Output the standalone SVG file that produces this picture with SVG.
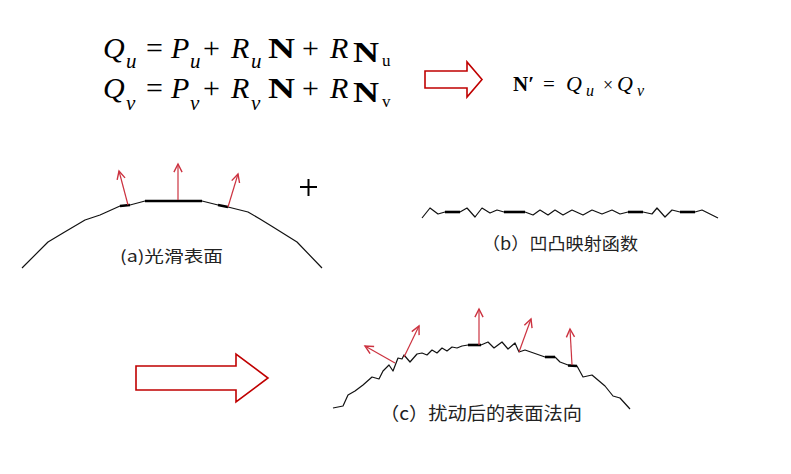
<svg xmlns="http://www.w3.org/2000/svg" width="791" height="474" viewBox="0 0 791 474">
<defs>
<marker id="ah" markerUnits="userSpaceOnUse" markerWidth="14" markerHeight="14" refX="0" refY="0" viewBox="-8 -6 10 12" orient="auto">
<path d="M-7,-3.5 L0,0 L-7,3.5" fill="none" stroke="#cc3340" stroke-width="1.2"/>
</marker>
</defs>
<style>
.m{font-family:"Liberation Serif","Times New Roman",serif;fill:#000}
.i{font-style:italic}
.b{font-weight:bold}
.s{fill:none;stroke:#111;stroke-width:1.2;stroke-linejoin:round}
.t{fill:none;stroke:#000;stroke-width:2.6}
.n{stroke:#cc3340;stroke-width:1.2;fill:none;marker-end:url(#ah)}
.blk{fill:#fff;stroke:#c00000;stroke-width:1.6;stroke-linejoin:miter}
.lab{font-family:"Noto Sans CJK SC","Noto Sans",sans-serif;fill:#222}
</style>
<rect width="791" height="474" fill="#fff"/>

<g id="formula-u">
<text class="m i" x="103" y="58" font-size="30">Q</text>
<text class="m i" x="126" y="68" font-size="21">u</text>
<text class="m" x="146" y="58" font-size="30">=</text>
<text class="m i" x="171" y="58" font-size="30">P</text>
<text class="m i" x="190" y="68" font-size="21">u</text>
<text class="m" x="203" y="58" font-size="30">+</text>
<text class="m i" x="231" y="58" font-size="30">R</text>
<text class="m i" x="251" y="68" font-size="21">u</text>
<text class="m b" x="268" y="58" font-size="30" textLength="27" lengthAdjust="spacingAndGlyphs">N</text>
<text class="m" x="302" y="58" font-size="30">+</text>
<text class="m i" x="330" y="58" font-size="30">R</text>
<text class="m b" x="353" y="62" font-size="30" textLength="26" lengthAdjust="spacingAndGlyphs">N</text>
<text class="m" x="382" y="66" font-size="17">u</text>
</g>

<g id="formula-v">
<text class="m i" x="103" y="98" font-size="30">Q</text>
<text class="m i" x="126" y="110" font-size="21">v</text>
<text class="m" x="146" y="98" font-size="30">=</text>
<text class="m i" x="171" y="98" font-size="30">P</text>
<text class="m i" x="190" y="110" font-size="21">v</text>
<text class="m" x="203" y="98" font-size="30">+</text>
<text class="m i" x="231" y="98" font-size="30">R</text>
<text class="m i" x="251" y="110" font-size="21">v</text>
<text class="m b" x="268" y="98" font-size="30" textLength="27" lengthAdjust="spacingAndGlyphs">N</text>
<text class="m" x="302" y="98" font-size="30">+</text>
<text class="m i" x="330" y="98" font-size="30">R</text>
<text class="m b" x="353" y="102" font-size="30" textLength="26" lengthAdjust="spacingAndGlyphs">N</text>
<text class="m" x="382" y="107" font-size="17">v</text>
</g>

<g id="formula-n">
<text class="m b" x="513" y="91" font-size="21">N′</text>
<text class="m" x="543" y="91" font-size="21">=</text>
<text class="m i" x="566" y="91" font-size="22">Q</text>
<text class="m i" x="586" y="96" font-size="16">u</text>
<text class="m" x="603" y="91" font-size="18">×</text>
<text class="m i" x="617" y="91" font-size="22">Q</text>
<text class="m i" x="637" y="96" font-size="16">v</text>
</g>

<g id="connectors">
<polygon class="blk" points="425,71 467,71 467,62 482,79.5 467,97 467,88 425,88"/>
<polygon class="blk" points="136,366 236,366 236,354 268,378 236,402 236,390 136,390"/>
</g>

<g id="surface-a">
<polyline class="s" points="22,268 48,242 63,233 85,220 100,215 120,206 130,205 145,201 202,201 218,205 228,207 248,212 260,219 273,227 297,242 322,268"/>
<line class="t" x1="120" y1="206" x2="130" y2="205"/>
<line class="t" x1="145" y1="201" x2="202" y2="201"/>
<line class="t" x1="218" y1="205" x2="228" y2="207"/>
<line class="n" x1="128" y1="205" x2="119" y2="171"/>
<line class="n" x1="178" y1="200" x2="178" y2="164"/>
<line class="n" x1="228" y1="207" x2="238" y2="174"/>
<text class="lab" x="120" y="262" font-size="16" textLength="103" lengthAdjust="spacingAndGlyphs">(a)光滑表面</text>
</g>

<g id="plus">
<line x1="300" y1="187" x2="317" y2="187" stroke="#000" stroke-width="2"/>
<line x1="308.5" y1="179" x2="308.5" y2="196" stroke="#000" stroke-width="2"/>
</g>

<g id="surface-b">
<polyline class="s" points="422,218 430,208 438,214 445,212 460,212 467,208 475,217 482,208 490,213 497,210 504,212 525,212 533,215 540,210 548,215 555,210 563,215 572,210 583,215 592,210 602,214 612,210 620,214 628,212 643,212 652,214 657,208 665,217 672,210 680,212 695,212 702,210 718,218"/>
<line class="t" x1="445" y1="212" x2="460" y2="212"/>
<line class="t" x1="504" y1="212" x2="525" y2="212"/>
<line class="t" x1="628" y1="212" x2="643" y2="212"/>
<line class="t" x1="680" y1="212" x2="695" y2="212"/>
<text class="lab" x="482" y="250" font-size="17" textLength="156" lengthAdjust="spacingAndGlyphs">（b）凹凸映射函数</text>
</g>

<g id="surface-c">
<polyline class="s" points="333,408 343,406 348,395 355,391 363,385 372,377 379,379 383,371 389,365 393,371 398,358 402,359 404,355 410,362 417,354 422,353 427,355 432,350 437,353 442,348 447,351 452,347 457,348 462,346 468,345 481,345 488,342 494,348 502,342 508,349 515,343 519,352 525,350 545,357 555,357 560,362 568,365 577,366 583,377 592,375 605,386 613,396 620,398 630,409"/>
<line class="t" x1="468" y1="345" x2="481" y2="345"/>
<line class="t" x1="545" y1="357" x2="555" y2="357"/>
<line class="t" x1="568" y1="365.5" x2="577" y2="366"/>
<line class="n" x1="395" y1="363" x2="365" y2="346"/>
<line class="n" x1="404" y1="357" x2="419" y2="326"/>
<line class="n" x1="479" y1="345" x2="479" y2="309"/>
<line class="n" x1="519" y1="352" x2="531" y2="319"/>
<line class="n" x1="572" y1="365" x2="570" y2="329"/>
<text class="lab" x="380" y="420" font-size="18" textLength="202" lengthAdjust="spacingAndGlyphs">（c）扰动后的表面法向</text>
</g>
</svg>
